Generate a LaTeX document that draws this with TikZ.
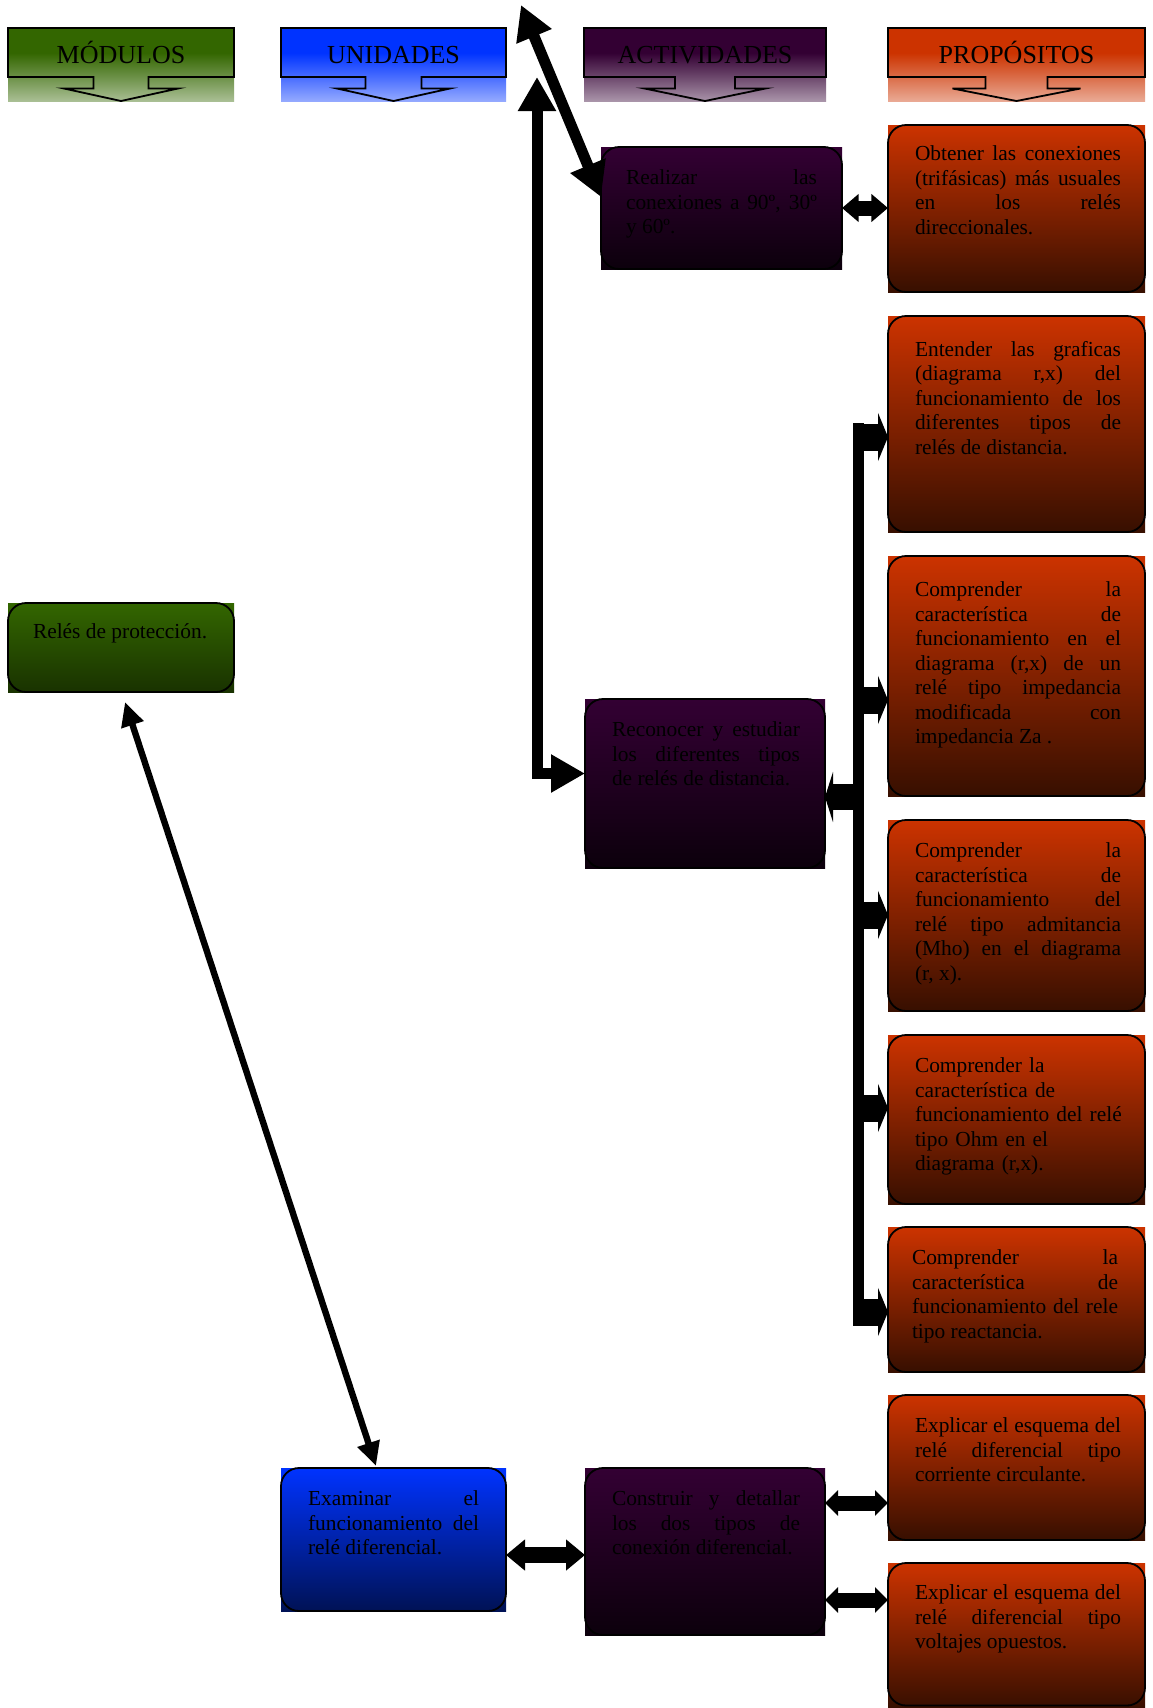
\documentclass[tikz,border=0pt]{standalone}
\usepackage{fontspec}
\setmainfont{Liberation Serif}
\usetikzlibrary{arrows.meta,calc}
\definecolor{cgreen}{RGB}{51,102,0}
\definecolor{cblue}{RGB}{0,51,255}
\definecolor{cpurple}{RGB}{51,0,51}
\definecolor{corange}{RGB}{204,51,0}
\definecolor{cgreenD}{RGB}{25,50,0}
\definecolor{cblueD}{RGB}{0,18,85}
\definecolor{cpurpleD}{RGB}{12,0,12}
\definecolor{corangeD}{RGB}{55,15,0}
\colorlet{hgM}{cgreen!72!white}\colorlet{hgL}{cgreen!42!white}
\colorlet{hbM}{cblue!72!white}\colorlet{hbL}{cblue!42!white}
\colorlet{hpM}{cpurple!72!white}\colorlet{hpL}{cpurple!42!white}
\colorlet{hoM}{corange!72!white}\colorlet{hoL}{corange!42!white}
\pgfdeclareverticalshading{shgreen}{100bp}{color(0bp)=(hgL); color(25bp)=(hgL); color(41.5bp)=(hgM); color(58bp)=(cgreen); color(100bp)=(cgreen)}
\pgfdeclareverticalshading{shblue}{100bp}{color(0bp)=(hbL); color(25bp)=(hbL); color(41.5bp)=(hbM); color(58bp)=(cblue); color(100bp)=(cblue)}
\pgfdeclareverticalshading{shpurple}{100bp}{color(0bp)=(hpL); color(25bp)=(hpL); color(41.5bp)=(hpM); color(58bp)=(cpurple); color(100bp)=(cpurple)}
\pgfdeclareverticalshading{shorange}{100bp}{color(0bp)=(hoL); color(25bp)=(hoL); color(41.5bp)=(hoM); color(58bp)=(corange); color(100bp)=(corange)}
\newcommand\myBody{\fontsize{10.7}{12.25}\selectfont\tolerance=10000\hbadness=10000\hyphenpenalty=10000\exhyphenpenalty=10000\relax}
\newcommand\myHead{\fontsize{13}{15}\selectfont}
\begin{document}
\begin{tikzpicture}[x=0.5pt,y=-0.5pt,
  hdrbox/.style={rectangle,inner sep=0pt,outer sep=0pt,minimum height=36.5pt},
  hdrline/.style={draw=black,line width=0.9pt,line join=miter},
  hdrtext/.style={anchor=base,inner sep=0pt,font=\myHead},
  boxbase/.style={rectangle,inner sep=0pt,outer sep=0pt},
  boxG/.style={boxbase,top color=cgreen,bottom color=cgreenD},
  boxB/.style={boxbase,top color=cblue,bottom color=cblueD},
  boxV/.style={boxbase,top color=cpurple,bottom color=cpurpleD},
  boxO/.style={boxbase,top color=corange,bottom color=corangeD,minimum width=128.5pt},
  boxline/.style={draw=black,line width=0.9pt,rounded corners=9pt},
  txt/.style={anchor=north west,inner sep=0pt,outer sep=0pt,align=justify,font=\myBody},
  thickarrow/.style={line width=5.5pt,line join=miter,{Triangle[length=17pt,width=18pt]}-{Triangle[length=17pt,width=18pt]}},
  thinarrow/.style={line width=3.2pt,{Triangle[length=12pt,width=11pt]}-{Triangle[length=12pt,width=11pt]}},
  stubR/.style={line width=13.5pt,-{Triangle[length=5pt,width=24pt]}},
  stubL/.style={line width=13pt,-{Triangle[length=4pt,width=25pt]}},
  blkA/.style={line width=7.5pt,{Triangle[length=8.3pt,width=13.5pt]}-{Triangle[length=8.3pt,width=13.5pt]}},
  blkB/.style={line width=7.5pt,{Triangle[length=6.5pt,width=12.5pt]}-{Triangle[length=6.5pt,width=12.5pt]}},
  blkC/.style={line width=8pt,{Triangle[length=9.5pt,width=15pt]}-{Triangle[length=9.5pt,width=15pt]}}
]
\fill[white] (0,0) rectangle (1152,1708);
\useasboundingbox (0,0) rectangle (1152,1708);

% headers
\node[hdrbox,shading=shgreen,minimum width=113pt] (h1) at (121,64.5) {};
\node[hdrbox,shading=shblue,minimum width=112.5pt] (h2) at (393.5,64.5) {};
\node[hdrbox,shading=shpurple,minimum width=121pt] (h3) at (705,64.5) {};
\node[hdrbox,shading=shorange,minimum width=128.5pt] (h4) at (1016.5,64.5) {};
\draw[hdrline] (8,28) -- (234,28) -- (234,77) -- (148.5,77) -- (148.5,88.5) -- (178,88.5) -- (121,101) -- (64,88.5) -- (93.5,88.5) -- (93.5,77) -- (8,77) -- cycle;
\draw[hdrline] (281,28) -- (506,28) -- (506,77) -- (421.5,77) -- (421.5,88.5) -- (450,88.5) -- (393.5,101) -- (337,88.5) -- (365.5,88.5) -- (365.5,77) -- (281,77) -- cycle;
\draw[hdrline] (584,28) -- (826,28) -- (826,77) -- (735,77) -- (735,88.5) -- (765.5,88.5) -- (705,101) -- (644.5,88.5) -- (675,88.5) -- (675,77) -- (584,77) -- cycle;
\draw[hdrline] (888,28) -- (1145,28) -- (1145,77) -- (1047.5,77) -- (1047.5,88.5) -- (1080.5,88.5) -- (1016.5,101) -- (952.5,88.5) -- (985.5,88.5) -- (985.5,77) -- (888,77) -- cycle;
\node[hdrtext] (h1t) at ($(h1.north)+(0,35)$) {MÓDULOS};
\node[hdrtext] (h2t) at ($(h2.north)+(0,35)$) {UNIDADES};
\node[hdrtext] (h3t) at ($(h3.north)+(0,35)$) {ACTIVIDADES};
\node[hdrtext] (h4t) at ($(h4.north)+(0,35)$) {PROPÓSITOS};

% boxes
\node[boxV,minimum width=120.5pt,minimum height=61pt] (r1) at (721.5,208) {};
\node[boxO,minimum height=83.5pt] (p1) at (1016.5,208.5) {};
\node[boxO,minimum height=108pt] (p2) at (1016.5,424) {};
\node[boxO,minimum height=120pt] (p3) at (1016.5,676) {};
\node[boxO,minimum height=95.5pt] (p4) at (1016.5,915.5) {};
\node[boxO,minimum height=84.5pt] (p5) at (1016.5,1119.5) {};
\node[boxO,minimum height=72.5pt] (p6) at (1016.5,1299.5) {};
\node[boxO,minimum height=72.5pt] (p7) at (1016.5,1467.5) {};
\node[boxO,minimum height=72.5pt] (p8) at (1016.5,1635.5) {};
\node[boxV,minimum width=120pt,minimum height=84.5pt] (a2) at (705,783.5) {};
\node[boxV,minimum width=120pt,minimum height=83.5pt] (a3) at (705,1551.5) {};
\node[boxB,minimum width=112.5pt,minimum height=71.5pt] (u1) at (393.5,1539.5) {};
\node[boxG,minimum width=113pt,minimum height=44.5pt] (m1) at (121,647.5) {};
\foreach \n in {r1,p1,p2,p3,p4,p5,p6,p7,a2,a3,u1,m1}
  \draw[boxline] (\n.north west) rectangle (\n.south east);
\draw[boxline] (p8.north west) rectangle ($(p8.south east)+(0,-2.5)$);

% texts
\node[txt,text width=95.5pt] (tr1) at ($(r1.north west)+(25,23)$) {Realizar las\linebreak conexiones a 90º, 30º\linebreak y 60º.};
\node[txt,text width=103pt] (tp1) at ($(p1.north west)+(27,21)$) {Obtener las conexiones\linebreak (trifásicas) más usuales\linebreak en los relés\linebreak direccionales.};
\node[txt,text width=103pt] (tp2) at ($(p2.north west)+(27,25)$) {Entender las graficas\linebreak (diagrama r,x) del\linebreak funcionamiento de los\linebreak diferentes tipos de\linebreak relés de distancia.};
\node[txt,text width=103pt] (tp3) at ($(p3.north west)+(27,26)$) {Comprender la\linebreak característica de\linebreak funcionamiento en el\linebreak diagrama (r,x) de un\linebreak relé tipo impedancia\linebreak modificada con\linebreak impedancia Za .};
\node[txt,text width=103pt] (tp4) at ($(p4.north west)+(27,23)$) {Comprender la\linebreak característica de\linebreak funcionamiento del\linebreak relé tipo admitancia\linebreak (Mho) en el diagrama\linebreak (r, x).};
\node[txt,text width=112pt,align=left] (tp5) at ($(p5.north west)+(27,23)$) {Comprender la\\característica de\\funcionamiento del relé\\tipo Ohm en el\\diagrama (r,x).};
\node[txt,text width=103pt] (tp6) at ($(p6.north west)+(24,23)$) {Comprender la\linebreak característica de\linebreak funcionamiento del rele\linebreak tipo reactancia.};
\node[txt,text width=103pt] (tp7) at ($(p7.north west)+(27,23)$) {Explicar el esquema del\linebreak relé diferencial tipo\linebreak corriente circulante.};
\node[txt,text width=103pt] (tp8) at ($(p8.north west)+(27,22)$) {Explicar el esquema del\linebreak relé diferencial tipo\linebreak voltajes opuestos.};
\node[txt,text width=94pt] (ta2) at ($(a2.north west)+(27,23)$) {Reconocer y estudiar\linebreak los diferentes tipos\linebreak de relés de distancia.};
\node[txt,text width=94pt] (ta3) at ($(a3.north west)+(27,23)$) {Construir y detallar\linebreak los dos tipos de\linebreak conexión diferencial.};
\node[txt,text width=85.5pt] (tu1) at ($(u1.north west)+(27,23)$) {Examinar el\linebreak funcionamiento del\linebreak relé diferencial.};
\node[txt,align=left] (tm1) at ($(m1.north west)+(25,21)$) {Relés de protección.};

% connectors
\coordinate (dtop) at (521,5);
\coordinate (etop) at (537,77);
\coordinate (bustop) at (858,423);
\coordinate (busbot) at (858,1326);
\draw[thickarrow] (dtop) -- ([yshift=5.5pt]r1.west);
\draw[thickarrow] (etop) |- ([yshift=5pt]a2.west);
\draw[blkA] (r1.east) -- (p1.west |- r1.east);
\draw[line width=5.5pt] (bustop) -- (busbot);
\draw[stubR] (bustop |- 0,437) -- (p2.west |- 0,437);
\draw[stubR] (bustop |- 0,700) -- (p3.west |- 0,700);
\draw[stubR] (bustop |- 0,915) -- (p4.west |- 0,915);
\draw[stubR] (bustop |- 0,1108) -- (p5.west |- 0,1108);
\draw[stubR] (bustop |- 0,1312) -- (p6.west |- 0,1312);
\draw[stubL] (bustop |- 0,797) -- (a2.east |- 0,797);
\draw[blkB] (a3.east |- 0,1503) -- (p7.west |- 0,1503);
\draw[blkB] (a3.east |- 0,1600) -- (p8.west |- 0,1600);
\draw[blkC] (u1.east |- 0,1555) -- (a3.west |- 0,1555);
\draw[thinarrow] ([xshift=2pt,yshift=-5pt]m1.south) -- ([xshift=-8.75pt,yshift=1pt]u1.north);
\end{tikzpicture}
\end{document}
